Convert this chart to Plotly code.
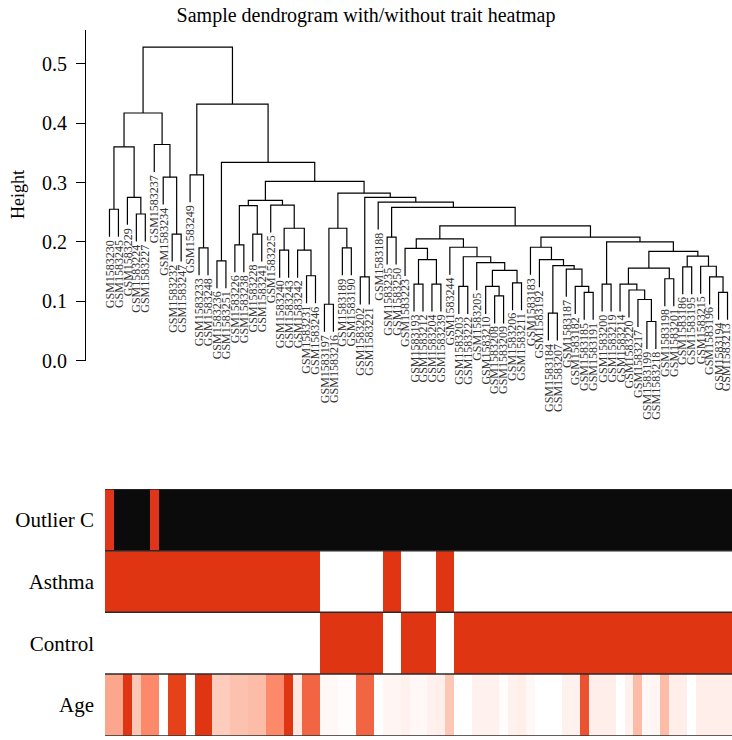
import plotly.graph_objects as go

# ---- sample labels in dendrogram leaf order ----
labels = [
    "GSM1583230", "GSM1583245", "GSM1583229", "GSM1583224", "GSM1583227",
    "GSM1583237", "GSM1583234", "GSM1583232", "GSM1583247", "GSM1583249",
    "GSM1583233", "GSM1583248", "GSM1583236", "GSM1583251", "GSM1583226",
    "GSM1583238", "GSM1583228", "GSM1583241", "GSM1583225", "GSM1583240",
    "GSM1583243", "GSM1583242", "GSM1583231", "GSM1583246", "GSM1583197",
    "GSM1583216", "GSM1583189", "GSM1583190", "GSM1583202", "GSM1583221",
    "GSM1583188", "GSM1583235", "GSM1583250", "GSM1583223", "GSM1583193",
    "GSM1583212", "GSM1583204", "GSM1583239", "GSM1583244", "GSM1583203",
    "GSM1583222", "GSM1583205", "GSM1583210", "GSM1583208", "GSM1583209",
    "GSM1583206", "GSM1583211", "GSM1583183", "GSM1583192", "GSM1583184",
    "GSM1583207", "GSM1583187", "GSM1583182", "GSM1583185", "GSM1583191",
    "GSM1583200", "GSM1583219", "GSM1583214", "GSM1583220", "GSM1583217",
    "GSM1583199", "GSM1583218", "GSM1583198", "GSM1583201", "GSM1583186",
    "GSM1583195", "GSM1583215", "GSM1583196", "GSM1583194", "GSM1583213",
]

# ---- hierarchical clustering merges (hclust convention: -k = leaf k, +k = merge row k) ----
merge_a = [-1, -4, -3, 1, -8, -7, -6, 4, -11, -10, -13, -15, -17, 12, -20, -23, -22, 15,
           -19, 14, -25, -27, 21, -29, -32, -35, -37, 26, -34, -40, -44, -43, -46, 32,
           -42, 30, -39, 29, -50, -54, -53, -52, 39, -49, -48, -56, -61, -60, -59, -58,
           -63, 50, -65, -69, -68, -67, 53, 52, 46, 45, 38, 25, -31, 24, 23, 20, 11, 10, 8]
merge_b = [-2, -5, 2, 3, -9, 5, 6, 7, -12, 9, -14, -16, -18, 13, -21, -24, 16, 17,
           18, 19, -26, -28, 22, -30, -33, -36, -38, 27, 28, -41, -45, 31, -47, 33,
           34, 35, 36, 37, -51, -55, 40, 41, 42, 43, 44, -57, -62, 47, 48, 49,
           -64, 51, -66, -70, 54, 55, 56, 57, 58, 59, 60, 61, 62, 63, 64, 65, 66, 67, 68]
merge_height = [0.255, 0.247, 0.275, 0.360, 0.213, 0.309, 0.364, 0.417, 0.190, 0.313,
                0.168, 0.195, 0.213, 0.261, 0.186, 0.143, 0.186, 0.223, 0.262, 0.270,
                0.095, 0.190, 0.223, 0.141, 0.208, 0.129, 0.129, 0.170, 0.189, 0.125,
                0.109, 0.125, 0.131, 0.152, 0.165, 0.175, 0.191, 0.205, 0.080, 0.115,
                0.125, 0.154, 0.160, 0.170, 0.191, 0.129, 0.066, 0.103, 0.119, 0.129,
                0.138, 0.156, 0.158, 0.115, 0.141, 0.159, 0.176, 0.184, 0.200, 0.208,
                0.227, 0.258, 0.267, 0.275, 0.282, 0.302, 0.334, 0.432, 0.528]

# ---- traits per sample (leaf order) ----
outlier = [1, 0, 0, 0, 0, 1] + [0] * 64
group = (["Asthma"] * 24 + ["Control"] * 7 + ["Asthma"] * 2 + ["Control"] * 4
         + ["Asthma"] * 2 + ["Control"] * 31)
age = [41, 41, 70, 35, 47, 47, 20, 67, 67, 20,
       70, 70, 34, 34, 36, 36, 37, 37, 47, 47,
       70, 27, 57, 57, 22, 22, 21, 21, 57, 57,
       20, 23, 23, 24, 22, 22, 24, 25, 35, 20,
       20, 24, 24, 24, 21, 24, 25, 22, 20, 20,
       20, 24, 24, 62, 25, 25, 25, 20, 24, 37,
       22, 23, 37, 25, 25, 20, 25, 25, 25, 25]

trait_rows = ["Outlier C", "Asthma", "Control", "Age"]

SERIF = "Liberation Serif"
RED = "#e0351a"
n = len(labels)

W, H = 732, 740
PLOT_LEFT = 105                      # left edge of the leaf / heatmap area, px
cell_px = (W - PLOT_LEFT) / n        # horizontal pixels per sample

# ---- dendrogram geometry from the merge table ----
hang = 0.1 * (max(merge_height) - min(merge_height))
node_x = {}
seg_x, seg_y = [], []
leaf_bottom = [0.0] * n


def child_pos(c, h):
    if c < 0:
        i = -c - 1
        leaf_bottom[i] = h - hang
        return float(i), h - hang
    return node_x[c], merge_height[c - 1]


for k, (a, b, h) in enumerate(zip(merge_a, merge_b, merge_height), start=1):
    xa, ya = child_pos(a, h)
    xb, yb = child_pos(b, h)
    seg_x += [xa, xa, xb, xb, None]
    seg_y += [ya, h, h, yb, None]
    node_x[k] = (xa + xb) / 2

fig = go.Figure()
fig.add_trace(go.Scatter(x=seg_x, y=seg_y, mode="lines",
                         line=dict(color="black", width=1.2),
                         hoverinfo="skip", showlegend=False,
                         xaxis="x", yaxis="y"))

# rotated leaf labels hanging under each leaf; keep the last one inside the page
for i, lab in enumerate(labels):
    centre_px = PLOT_LEFT + cell_px * (i + 0.5)
    shift = min(0.0, W - 6.5 - centre_px)
    fig.add_annotation(x=i, y=leaf_bottom[i], xref="x", yref="y", text=lab,
                       textangle=-90, xanchor="center", yanchor="top",
                       showarrow=False, yshift=-1, xshift=shift,
                       font=dict(family=SERIF, size=12, color="#333"))

# ---- trait heatmap rows ----
xs = list(range(n))
asthma = [1 if g == "Asthma" else 0 for g in group]
control = [1 if g == "Control" else 0 for g in group]

fig.add_trace(go.Heatmap(x=xs, y=[3], z=[outlier], zmin=0, zmax=1,
                         colorscale=[[0, "#0b0b0b"], [1, RED]],
                         showscale=False, xaxis="x2", yaxis="y2", hoverinfo="skip"))
fig.add_trace(go.Heatmap(x=xs, y=[2], z=[asthma], zmin=0, zmax=1,
                         colorscale=[[0, "#ffffff"], [1, "#e03512"]],
                         showscale=False, xaxis="x2", yaxis="y2", hoverinfo="skip"))
fig.add_trace(go.Heatmap(x=xs, y=[1], z=[control], zmin=0, zmax=1,
                         colorscale=[[0, "#ffffff"], [1, "#e03512"]],
                         showscale=False, xaxis="x2", yaxis="y2", hoverinfo="skip"))
fig.add_trace(go.Heatmap(x=xs, y=[0], z=[age], zmin=20, zmax=70,
                         colorscale=[[0.0, "#ffffff"], [0.1, "#ffeee9"], [0.2, "#fedfd4"],
                                     [0.3, "#fdc7b6"], [0.42, "#fca68d"], [0.54, "#fc8a6a"],
                                     [0.74, "#f26543"], [0.84, "#ec5230"], [0.94, "#e5421a"],
                                     [1.0, "#e03512"]],
                         showscale=False, xaxis="x2", yaxis="y2", hoverinfo="skip"))

for yb in [3.5, 2.5, 1.5, 0.5, -0.5]:
    fig.add_shape(type="line", xref="x2 domain", yref="y2", x0=0, x1=1, y0=yb, y1=yb,
                  line=dict(color="#2a2a2a", width=1.5))

x_left = PLOT_LEFT / W
fig.update_layout(
    width=W, height=H,
    margin=dict(l=0, r=0, t=0, b=0, autoexpand=False),
    paper_bgcolor="white", plot_bgcolor="white",
    title=dict(text="Sample dendrogram with/without trait heatmap",
               x=0.5, xanchor="center", y=1 - 15 / H, yanchor="middle",
               font=dict(family=SERIF, size=20, color="black")),
    xaxis=dict(domain=[x_left, 1], range=[-0.5, n - 0.5], visible=False,
               automargin=False),
    yaxis=dict(domain=[1 - 360.7 / H, 1 - 30 / H], range=[0, (360.7 - 30) / 594],
               anchor="free", position=85 / W, automargin=False,
               showline=True, linecolor="black", linewidth=1,
               ticks="outside", ticklen=9, tickwidth=1, tickcolor="black",
               tickvals=[0, 0.1, 0.2, 0.3, 0.4, 0.5], tickformat=".1f",
               ticklabelstandoff=5,
               tickfont=dict(family=SERIF, size=20, color="black"),
               showgrid=False, zeroline=False),
    xaxis2=dict(domain=[x_left, 1], range=[-0.5, n - 0.5], visible=False, anchor="y2",
                automargin=False),
    yaxis2=dict(domain=[1 - 735.7 / H, 1 - 489 / H], range=[-0.5, 3.5],
                anchor="x2", tickvals=[3, 2, 1, 0], ticktext=trait_rows,
                automargin=False,
                ticks="", showline=False, showgrid=False, zeroline=False,
                ticklabelstandoff=10,
                tickfont=dict(family=SERIF, size=21, color="black")),
)

fig.add_annotation(text="Height", xref="paper", yref="paper",
                   x=18 / W, y=1 - 195 / H, textangle=-90, showarrow=False,
                   xanchor="center", yanchor="middle",
                   font=dict(family=SERIF, size=18, color="black"))

fig.write_html("out.html")
